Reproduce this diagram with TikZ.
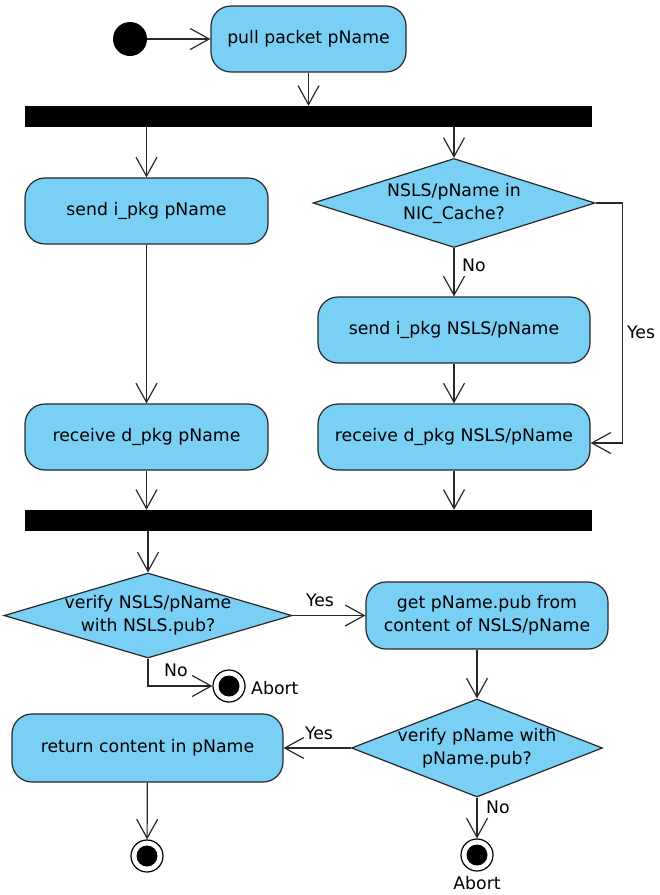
\documentclass[tikz,border=0pt]{standalone}
\usepackage{fontspec}
\setmainfont{DejaVu Sans}
\usetikzlibrary{arrows.meta,shapes.geometric,calc}
\definecolor{actfill}{RGB}{122,207,245}
\definecolor{lin}{RGB}{40,40,40}
\begin{document}
\begin{tikzpicture}[x=1pt,y=-1pt, font=\fontsize{17.3}{23}\selectfont,
  act/.style={draw=lin, line width=1.2pt, fill=actfill, rounded corners=20pt, minimum height=66pt, align=center, inner sep=0pt},
  dec/.style={draw=lin, line width=1.2pt, fill=actfill, diamond, inner sep=0pt},
  bar/.style={fill=black, draw=none, minimum width=567pt, minimum height=21pt, inner sep=0pt},
  flow/.style={draw=lin, line width=1.2pt, -{Straight Barb[length=19pt,width=21pt]}},
  startnode/.style={circle, fill=black, minimum size=34pt, inner sep=0pt},
  endnode/.style={circle, draw=black, line width=1.2pt, fill=white, minimum size=32pt, inner sep=0pt,
    path picture={\fill[black] (path picture bounding box.center) circle (10.5pt);}},
  lbl/.style={inner sep=0pt}
]
\useasboundingbox (0,0) rectangle (660,895);
% nodes
\node[startnode] (s) at (130,39) {};
\node[act, minimum width=195pt] (b0) at (308.5,39) {pull packet pName};
\node[bar] (bar1) at (308.5,116.5) {};
\node[act, minimum width=243pt] (b1) at (146.5,211) {send i\_pkg pName};
\node[dec, minimum width=282pt, minimum height=89pt,
  label={[align=center]center:NSLS/pName in\\NIC\_Cache?}] (d1) at (454,203) {};
\node[act, minimum width=272pt] (b2) at (454,330) {send i\_pkg NSLS/pName};
\node[act, minimum width=243pt] (b3) at (146.5,437) {receive d\_pkg pName};
\node[act, minimum width=272pt] (b4) at (454,437) {receive d\_pkg NSLS/pName};
\node[bar] (bar2) at (308.5,520.5) {};
\node[dec, minimum width=288pt, minimum height=85pt,
  label={[align=center]center:verify NSLS/pName\\with NSLS.pub?}] (d2) at (148,615.5) {};
\node[act, minimum width=242pt, minimum height=67pt] (b5) at (487,615.5) {get pName.pub from\\content of NSLS/pName};
\node[endnode] (ab1) at (229,686) {};
\node[dec, minimum width=251pt, minimum height=98pt,
  label={[align=center]center:verify pName with\\pName.pub?}] (d3) at (477,748) {};
\node[act, minimum width=271pt, minimum height=68pt] (b6) at (147.5,748) {return content in pName};
\node[endnode] (e2) at (147,856) {};
\node[endnode] (e3) at (477,855) {};
% labels
\node[lbl, anchor=west] (lno1) at (462,265) {No};
\node[lbl, anchor=west] (lyes1) at (627,332) {Yes};
\node[lbl] (lyes2) at (320,600) {Yes};
\node[lbl] (lno2) at (176,670) {No};
\node[lbl, anchor=west] (labort1) at (251,688) {Abort};
\node[lbl] (lyes3) at (319,733) {Yes};
\node[lbl] (lno3) at (498,807) {No};
\node[lbl] (labort2) at (477,883) {Abort};
% connectors
\draw[flow] (s) -- (b0);
\draw[flow] (b0) -- (b0 |- bar1.north);
\draw[flow] (bar1.south -| b1) -- (b1);
\draw[flow] (bar1.south -| d1) -- (d1);
\draw[flow] (d1) -- (b2);
\draw[flow] (b2) -- (b4);
\draw[flow] (d1.east) -- ++(27,0) |- ($(b4.east)+(0,6)$);
\draw[flow] (b1) -- (b3);
\draw[flow] (b3) -- (b3 |- bar2.north);
\draw[flow] (b4) -- (b4 |- bar2.north);
\draw[flow] (bar2.south -| d2) -- (d2);
\draw[flow] (d2.east) -- (d2.east -| b5.west);
\draw[flow] (d2.south) |- (ab1);
\draw[flow] (d3.north |- b5.south) -- (d3.north);
\draw[flow] (d3.west) -- (d3.west -| b6.east);
\draw[flow] (b6) -- (e2);
\draw[flow] (d3) -- (e3);
\end{tikzpicture}
\end{document}
